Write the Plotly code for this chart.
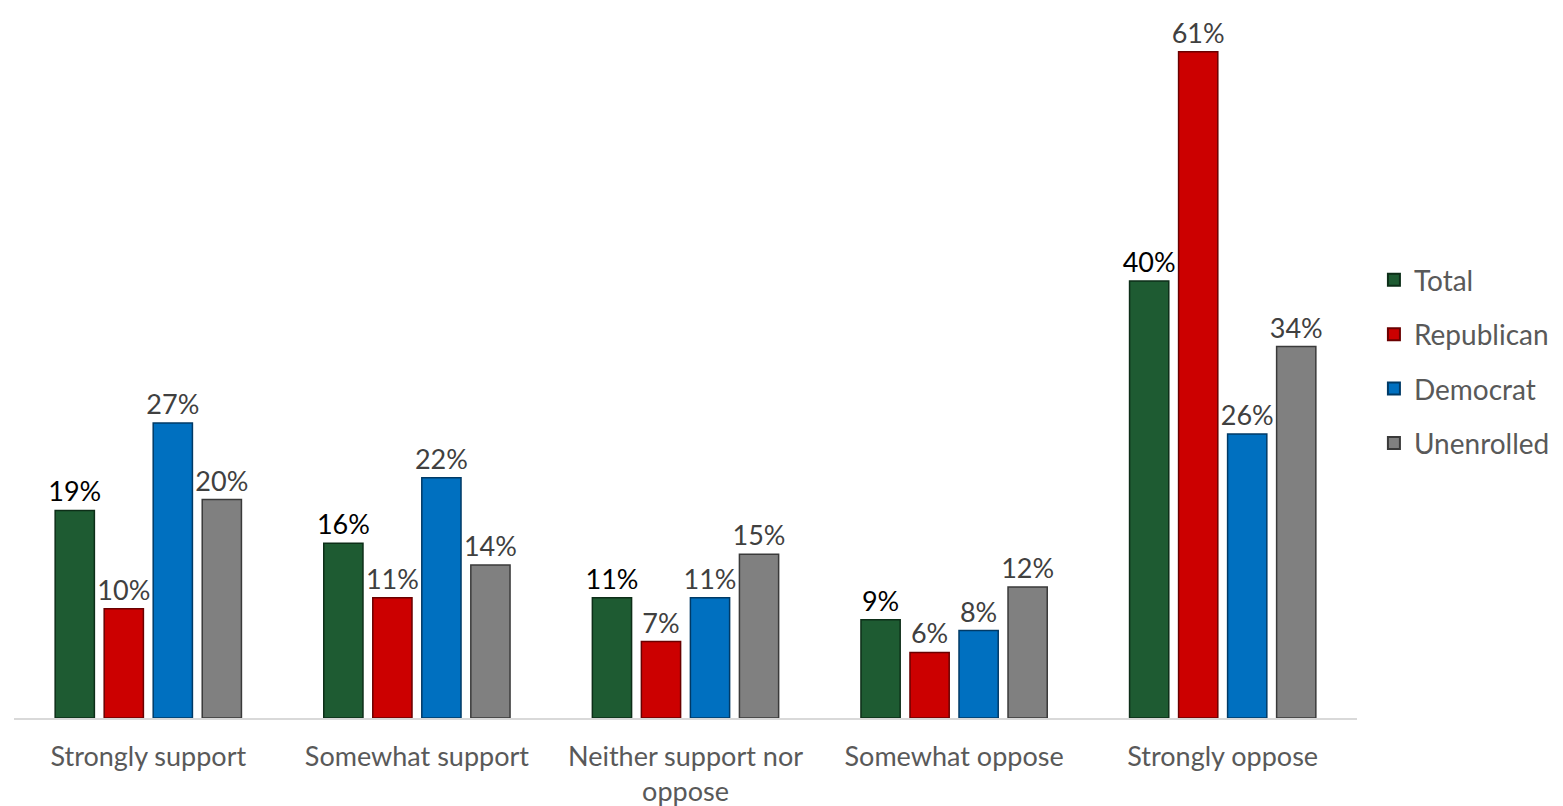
import plotly.graph_objects as go

categories = ["Strongly support", "Somewhat support", "Neither support nor<br>oppose",
              "Somewhat oppose", "Strongly oppose"]
total = [19, 16, 11, 9, 40]
republican = [10, 11, 7, 6, 61]
democrat = [27, 22, 11, 8, 26]
unenrolled = [20, 14, 15, 12, 34]

series = [
    ("Total", total, "#1e5b32", "#0d2e18", "#000000"),
    ("Republican", republican, "#cc0000", "#6a0000", "#404040"),
    ("Democrat", democrat, "#0070c0", "#003a66", "#404040"),
    ("Unenrolled", unenrolled, "#808080", "#3a3a3a", "#404040"),
]

FONT = "Lato, Carlito, 'Open Sans', sans-serif"

fig = go.Figure()
for name, vals, col, edge, tcol in series:
    fig.add_trace(go.Bar(
        name=name, x=categories, y=vals,
        legendgroup=name,
        marker=dict(color=col, line=dict(color=edge, width=1.5)),
        text=[f"{v}%" for v in vals], textposition="outside",
        constraintext="none",
        textfont=dict(size=27, color=tcol, family=FONT),
        cliponaxis=False,
    ))

fig.update_layout(
    width=1555, height=798,
    margin=dict(l=6, r=206, t=0, b=88, autoexpand=False),
    paper_bgcolor="white", plot_bgcolor="white",
    barmode="group", bargap=0.27, bargroupgap=0.2,
    font=dict(family=FONT, color="#595959"),
    showlegend=True,
    legend=dict(x=1.0126, y=0.652, xanchor="left", yanchor="top",
                font=dict(size=28, color="#595959", family=FONT),
                tracegroupgap=15, itemsizing="constant",
                bgcolor="rgba(0,0,0,0)"),
    xaxis=dict(showline=True, linecolor="#d9d9d9", linewidth=1.5,
               tickfont=dict(size=27, color="#595959", family=FONT),
               ticks="", showgrid=False, ticklabelstandoff=14),
    yaxis=dict(range=[0, 65], visible=False, showgrid=False),
)

fig.write_html("out.html")
